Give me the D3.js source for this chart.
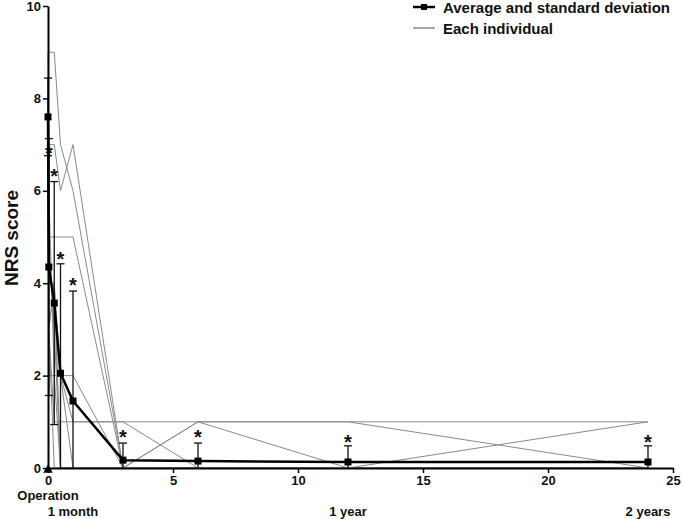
<!DOCTYPE html>
<html>
<head>
<meta charset="utf-8">
<script src="https://cdn.jsdelivr.net/npm/d3@7"></script>
<style>
    body { margin: 0; background: #fff; }
    text { font-family: "Liberation Sans", Arial, sans-serif; font-weight: bold; fill: #111; }
</style>
</head>
<body>
<svg id="chart" width="683" height="519"></svg>
<script>
//time points, months after the operation
var months = [0, 0.033, 0.25, 0.5, 1, 3, 6, 12, 24];
//average NRS score at each time point
var averages = [7.6, 4.35, 3.57, 2.05, 1.45, 0.17, 0.15, 0.13, 0.13];
//standard deviation at each time point
var deviations = [0.84, 2.78, 2.63, 2.37, 2.38, 0.37, 0.39, 0.35, 0.35];
//level of the significance star (none before the operation)
var starLevels = [null, 6.9, 6.4, 4.6, 4.05, 0.75, 0.75, 0.65, 0.65];

//each individual patient
var patient1 = [9, 9, 9, 7, 6, 0, 0, 0, 0];
var patient2 = [8, 7, 7, 6, 7, 0, 0, 0, 0];
var patient3 = [6, 5, 5, 5, 5, 0, 0, 0, 0];
var patient4 = [8, 6, 2, 2, 2, 0, 0, 0, 0];
var patient5 = [7, 3, 1, 1, 1, 1, 1, 1, 1];
var patient6 = [8, 4, 4, 2, 1, 1, 0, 0, 1];
var patient7 = [7, 3, 4, 0, 0, 0, 1, 0, 0];
var patient8 = [9, 5, 3, 0, 0, 0, 1, 1, 0];
var patient9 = [7, 2, 2, 2, 0, 0, 0, 0, 0];
var patient10 = [7, 3, 4, 0, 0, 0, 0, 0, 0];
var patient11 = [8, 2, 2, 0, 0, 0, 0, 0, 0];
var patient12 = [6, 3, 0, 0, 0, 0, 0, 0, 0];
var patients = [patient1, patient2, patient3, patient4, patient5, patient6,
    patient7, patient8, patient9, patient10, patient11, patient12];

//axis ticks
var xTicks = [0, 5, 10, 15, 20, 25];
var yTicks = [0, 2, 4, 6, 8, 10];
//period names under the x axis
var periodMonths = [1, 12, 24];
var periodNames = ['1 month', '1 year', '2 years'];

var svg = d3.select('#chart');

var x = d3.scaleLinear().domain([0, 25]).range([48, 673]);
var y = d3.scaleLinear().domain([0, 10]).range([468, 6]);

var line = d3.line()
    .x(function(d, i) { return x(months[i]); })
    .y(function(d) { return y(d); });

//individual lines
svg.append('g')
    .selectAll('path')
    .data(patients)
    .enter().append('path')
    .attr('fill', 'none')
    .attr('stroke', '#8a8a8a')
    .attr('stroke-width', 1)
    .attr('d', line);

//error bars, clipped at zero
var bars = svg.append('g').attr('stroke', '#111').attr('stroke-width', 1.3);
averages.forEach(function(m, i) {
    var top = m + deviations[i];
    var bottom = Math.max(0, m - deviations[i]);
    var cx = x(months[i]);
    bars.append('line').attr('x1', cx).attr('x2', cx).attr('y1', y(top)).attr('y2', y(bottom));
    bars.append('line').attr('x1', cx - 4).attr('x2', cx + 4).attr('y1', y(top)).attr('y2', y(top));
    if (m - deviations[i] >= 0) {
        bars.append('line').attr('x1', cx - 4).attr('x2', cx + 4).attr('y1', y(bottom)).attr('y2', y(bottom));
    }
});

//average line
svg.append('path')
    .datum(averages)
    .attr('fill', 'none')
    .attr('stroke', '#000')
    .attr('stroke-width', 2.5)
    .attr('stroke-linejoin', 'round')
    .attr('d', line);

//average squares
svg.append('g')
    .selectAll('rect')
    .data(averages)
    .enter().append('rect')
    .attr('x', function(d, i) { return x(months[i]) - 3.5; })
    .attr('y', function(d) { return y(d) - 3.5; })
    .attr('width', 7)
    .attr('height', 7)
    .attr('fill', '#000');

//stars
svg.append('g')
    .selectAll('text')
    .data(starLevels.filter(function(d) { return d !== null; }))
    .enter().append('text')
    .attr('x', function(d, i) { return x(months[i + 1]); })
    .attr('y', function(d) { return y(d) + 11; })
    .attr('text-anchor', 'middle')
    .style('font-size', '20px')
    .text('*');

//x axis
var xAxis = svg.append('g')
    .attr('transform', 'translate(0,468)')
    .call(d3.axisBottom(x).tickValues(xTicks).tickSize(5).tickSizeOuter(0).tickPadding(3));

//y axis
var yAxis = svg.append('g')
    .attr('transform', 'translate(48,0)')
    .call(d3.axisLeft(y).tickValues(yTicks).tickSize(5).tickSizeOuter(0).tickPadding(2));

[xAxis, yAxis].forEach(function(a) {
    a.select('.domain').attr('stroke', '#000').attr('stroke-width', 2);
    a.selectAll('.tick line').attr('stroke', '#000').attr('stroke-width', 1.5);
    a.selectAll('.tick text')
        .attr('fill', '#111')
        .style('font-family', '"Liberation Sans", Arial, sans-serif')
        .style('font-weight', 'bold')
        .style('font-size', '13px');
});

//operation marker
svg.append('path')
    .attr('d', d3.symbol().type(d3.symbolTriangle).size(40))
    .attr('transform', 'translate(' + x(0) + ',470)')
    .attr('fill', '#000');

svg.append('text')
    .attr('x', x(0))
    .attr('y', 500)
    .attr('text-anchor', 'middle')
    .style('font-size', '13px')
    .text('Operation');

svg.append('g')
    .selectAll('text')
    .data(periodNames)
    .enter().append('text')
    .attr('x', function(d, i) { return x(periodMonths[i]); })
    .attr('y', 516)
    .attr('text-anchor', 'middle')
    .style('font-size', '13px')
    .text(function(d) { return d; });

//y axis title
svg.append('text')
    .attr('transform', 'translate(18,238) rotate(-90)')
    .attr('text-anchor', 'middle')
    .style('font-size', '19px')
    .text('NRS score');

//legend
var legend = svg.append('g');
legend.append('line')
    .attr('x1', 413).attr('x2', 435).attr('y1', 7).attr('y2', 7)
    .attr('stroke', '#000').attr('stroke-width', 2.5);
legend.append('rect')
    .attr('x', 421).attr('y', 4).attr('width', 6).attr('height', 6)
    .attr('fill', '#000');
legend.append('line')
    .attr('x1', 413).attr('x2', 435).attr('y1', 28).attr('y2', 28)
    .attr('stroke', '#8a8a8a').attr('stroke-width', 1.5);
legend.append('text')
    .attr('x', 443).attr('y', 12.5)
    .style('font-size', '15px')
    .text('Average and standard deviation');
legend.append('text')
    .attr('x', 443).attr('y', 33.5)
    .style('font-size', '15px')
    .text('Each individual');
</script>
</body>
</html>
